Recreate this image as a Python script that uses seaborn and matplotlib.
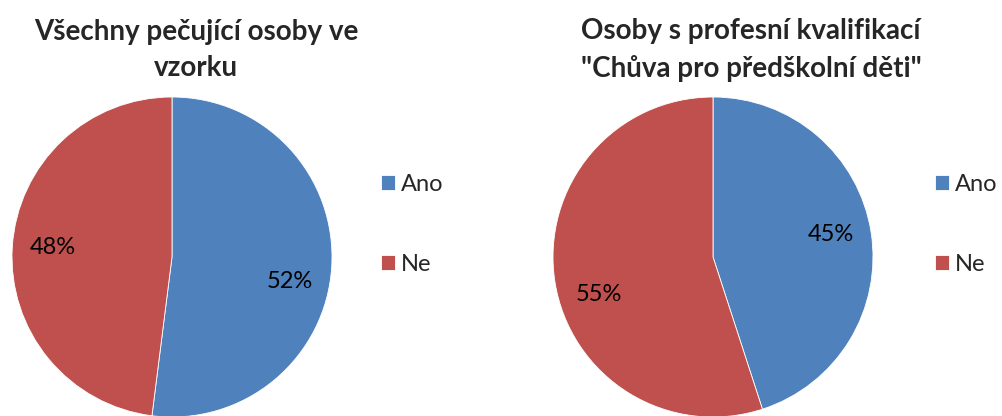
import matplotlib
matplotlib.use("Agg")
import matplotlib.pyplot as plt
import seaborn as sns
import numpy as np

# data
kategorie = ["Ano", "Ne"]
vsichni = [52, 48]
chuvy = [45, 55]
titulky = ["Všechny pečující osoby ve\nvzorku",
           "Osoby s profesní kvalifikací\n\"Chůva pro předškolní děti\""]
barvy = ["#4F81BD", "#C0504D"]

sns.set_style("white")
plt.rcParams['font.family'] = ['Lato', 'DejaVu Sans']

W, H = 1003, 416
fig = plt.figure(figsize=(W / 100, H / 100), dpi=100)

# pozice v pixelech: stred kolace, stred titulku, levy okraj legendy
rozlozeni = [(172, 257, 196, 381), (713, 257, 751, 935)]
# posun popisku (stupne) jako v Excelu "best fit"
posuny = [(-8, -1), (2, 9)]

for hodnoty, titulek, (cx, cy, tx, lx), posun in zip([vsichni, chuvy], titulky, rozlozeni, posuny):
    r = 160
    ax = fig.add_axes([(cx - r) / W, (H - cy - r) / H, 2 * r / W, 2 * r / H])
    wedges, texts, autotexts = ax.pie(
        hodnoty, colors=barvy, startangle=90, counterclock=False,
        autopct='%1.0f%%', pctdistance=0.75,
        wedgeprops=dict(edgecolor='white', linewidth=0.6),
        textprops=dict(fontsize=17, color='black'))
    for w, t, d in zip(wedges, autotexts, posun):
        uhel = np.deg2rad((w.theta1 + w.theta2) / 2 + d)
        t.set_position((0.75 * np.cos(uhel), 0.75 * np.sin(uhel)))
    ax.set_xlim(-1, 1)
    ax.set_ylim(-1, 1)
    ax.set_aspect('equal')
    ax.axis('off')
    fig.text(tx / W, (H - 50) / H, titulek, ha='center', va='center',
             fontsize=20, fontweight='bold', linespacing=1.5)
    fig.legend(wedges, kategorie, loc='upper left', frameon=False,
               bbox_to_anchor=(lx / W, (H - 174) / H), borderpad=0,
               borderaxespad=0, fontsize=17, handlelength=0.6,
               handleheight=0.6, handletextpad=0.25, labelspacing=2.5)

fig.savefig("out.png", dpi=100)
